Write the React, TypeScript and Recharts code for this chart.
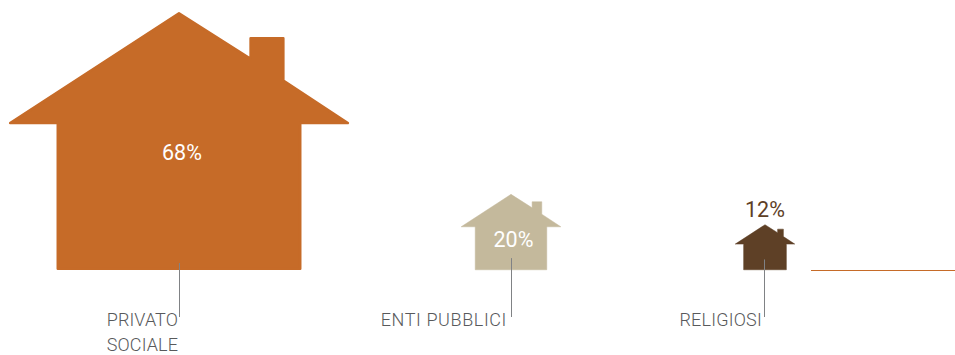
import { BarChart, Bar, XAxis, YAxis, LabelList, usePlotArea } from 'recharts';

const categories = ['PRIVATO\nSOCIALE', 'ENTI PUBBLICI', 'RELIGIOSI'];
const shares = [68, 20, 12];

const chartData = categories.map((name, i) => ({ name, share: shares[i] }));

// Per-house look: the bands are evenly spaced, the houses are not
const houseStyles = [
  { fill: '#C66B28', nudge: 0, stroke: 2.5, leaderFrom: 251, labelEnd: -1, spacing: 0.1, pctX: 3, pctY: 140.5, pctFill: '#FFFFFF' },
  { fill: '#C4B99C', nudge: 39, stroke: 0.5, leaderFrom: 64, labelEnd: 35, spacing: 0.6, pctX: 2.5, pctY: 45, pctFill: '#FFFFFF' },
  { fill: '#5E4026', nudge: 0, stroke: 0.5, leaderFrom: 35, labelEnd: -3, spacing: 0.2, pctX: 0, pctY: -15, pctFill: '#5E4026' },
];

const FONT = 'Roboto, sans-serif';
const HOUSE_ASPECT = 341 / 258;

// Outline of the house as fractions of its width and height
const houseOutline = (cx: number, top: number, h: number) => {
  const w = h * HOUSE_ASPECT;
  const left = cx - w / 2;
  const pts = [
    [0.5, 0],
    [0.712, 0.178],
    [0.712, 0.098],
    [0.809, 0.098],
    [0.809, 0.263],
    [1, 0.43],
    [0.859, 0.43],
    [0.859, 1],
    [0.141, 1],
    [0.141, 0.43],
    [0, 0.43],
  ];
  return pts.map(([px, py]) => `${left + px * w},${top + py * h}`).join(' ');
};

const HouseShape = (props: any) => {
  const { x, y, width, height, index } = props;
  const style = houseStyles[index];
  const cx = x + width / 2 + style.nudge;
  const lineX = cx + (index === 2 ? -0.5 : 0.5);
  const inset = style.stroke / 2;
  return (
    <g>
      <polygon
        points={houseOutline(cx, y + inset, height - style.stroke)}
        fill={style.fill}
        stroke={style.fill}
        strokeWidth={style.stroke}
        strokeLinejoin="round"
      />
      <line x1={lineX} x2={lineX} y1={y + style.leaderFrom} y2={y + height + 47} stroke="#808285" strokeWidth={1} />
    </g>
  );
};

const CategoryTick = (props: any) => {
  const { x, payload, index } = props;
  const style = houseStyles[index];
  const lines = String(payload.value).split('\n');
  return (
    <text
      textAnchor="end"
      fontFamily={FONT}
      fontWeight={300}
      fontSize={18}
      letterSpacing={style.spacing}
      fill="#58595B"
    >
      {lines.map((line, i) => (
        <tspan key={line} x={x + style.labelEnd} y={326 + i * 25}>
          {line}
        </tspan>
      ))}
    </text>
  );
};

const PercentLabel = (props: any) => {
  const { x, y, width, value, index } = props;
  const style = houseStyles[index];
  return (
    <text
      x={x + width / 2 + style.nudge + style.pctX}
      y={y + style.pctY}
      textAnchor="middle"
      dominantBaseline="central"
      fontFamily={FONT}
      fontSize={21.5}
      fill={style.pctFill}
    >
      {value}%
    </text>
  );
};

// Ground line to the right of the last house
const GroundLine = () => {
  const plot = usePlotArea();
  if (!plot) return null;
  const y = plot.y + plot.height + 0.5;
  return <line x1={811} x2={955} y1={y} y2={y} stroke="#C66B28" strokeWidth={1} />;
};

export default function App() {
  return (
    <div style={{ position: 'absolute', left: 0, top: 0, width: 955, height: 355, background: '#fff' }}>
      <BarChart
        width={955}
        height={355}
        data={chartData}
        margin={{ top: 12, right: 43.5, bottom: 0, left: 32.5 }}
        barCategoryGap={0}
      >
        <XAxis
          dataKey="name"
          height={85}
          axisLine={false}
          tickLine={false}
          interval={0}
          tick={<CategoryTick />}
        />
        <YAxis hide domain={[0, 68]} />
        <Bar dataKey="share" isAnimationActive={false} shape={<HouseShape />}>
          <LabelList dataKey="share" content={<PercentLabel />} />
        </Bar>
        <GroundLine />
      </BarChart>
    </div>
  );
}
